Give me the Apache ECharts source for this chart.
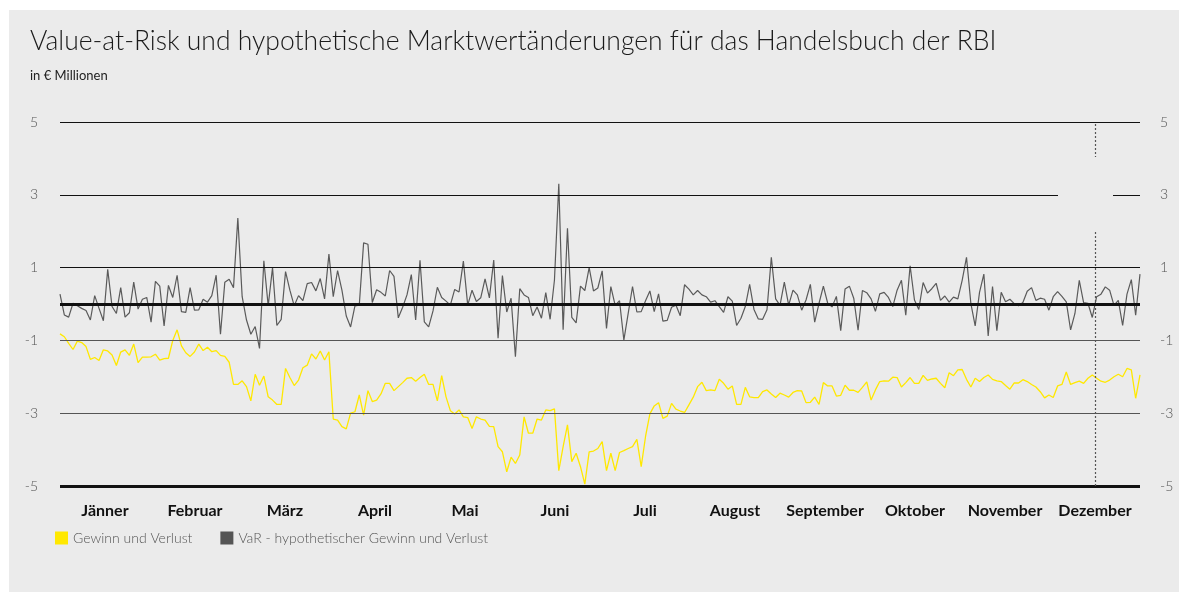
<!DOCTYPE html>
<html>
<head>
<meta charset="utf-8">
<script src="https://cdn.jsdelivr.net/npm/echarts@6/dist/echarts.min.js"></script>
<style>
html,body{margin:0;padding:0;background:#ffffff;}
#chart{position:absolute;left:0;top:0;width:1179px;height:592px;}
</style>
</head>
<body>
<div id="chart"></div>
<script>
const titleText = 'Value-at-Risk und hypothetische Marktwertänderungen für das Handelsbuch der RBI';
const subtitleText = 'in € Millionen';
const months = ['Jänner','Februar','März','April','Mai','Juni','Juli','August','September','Oktober','November','Dezember'];
const yTicks = [5, 3, 1, -1, -3, -5];
const seriesNames = ['Gewinn und Verlust', 'VaR - hypothetischer Gewinn und Verlust'];

// VaR - hypothetischer Gewinn und Verlust (daily, ~250 trading days)
const varValues = [
 0.27,-0.30,-0.36,0.02,-0.05,-0.12,-0.18,-0.44,0.23,-0.12,-0.46,0.95,-0.07,-0.26,0.45,-0.36,-0.24,0.60,-0.14,0.13,
 0.18,-0.50,0.62,0.49,-0.60,0.51,0.18,0.79,-0.21,-0.23,0.45,-0.17,-0.16,0.13,0.05,0.23,0.79,-0.83,0.60,0.68,
 0.45,2.36,0.20,-0.44,-0.83,-0.62,-1.22,1.19,-0.05,1.00,-0.59,-0.42,0.89,0.38,-0.05,0.23,0.09,0.56,0.59,0.36,
 0.70,0.14,1.37,
 0.20,0.92,0.38,-0.33,-0.63,-0.05,-0.03,1.68,1.64,0.04,0.39,0.32,0.22,0.92,0.76,-0.38,-0.09,0.25,0.81,-0.44,
 1.20,-0.49,-0.63,-0.19,0.46,0.18,0.08,-0.03,0.40,0.33,1.18,-0.03,0.38,0.07,0.17,0.69,0.17,1.21,-0.94,0.78,
 -0.22,0.16,-1.45,0.42,0.25,0.18,-0.32,-0.08,-0.39,0.31,-0.42,0.66,3.30,-0.71,2.08,-0.37,-0.52,0.49,
 0.37,1.00,0.36,0.44,0.91,-0.67,0.48,-0.04,0.09,-0.99,-0.26,0.48,-0.22,-0.21,0.09,0.36,-0.21,0.28,-0.47,-0.45,
 -0.09,-0.03,-0.32,0.53,0.41,0.25,0.37,0.25,0.20,0.05,0.09,-0.07,-0.23,0.20,0.08,-0.59,-0.39,-0.07,0.54,-0.15,
 -0.41,-0.42,-0.16,1.28,0.14,-0.04,0.60,-0.03,0.38,0.25,-0.17,0.11,0.54,-0.50,0.02,0.49,0.02,-0.08,0.21,-0.73,
 0.41,0.49,0.16,-0.72,0.37,0.31,0.14,-0.20,0.28,
 0.32,0.18,-0.07,0.38,0.65,-0.31,1.05,0.11,-0.15,0.59,0.30,0.42,0.57,0.10,0.22,0.05,0.19,0.14,0.65,1.28,
 0.02,-0.60,0.32,0.82,-0.88,0.48,-0.73,0.32,0.06,0.13,0.01,-0.05,0.04,0.35,0.45,0.10,0.16,0.13,-0.17,0.20,
 0.34,0.21,0.06,-0.71,-0.26,0.65,0.04,0.02,-0.37,0.20,0.27,0.47,0.38,-0.04,0.10,-0.59,0.27,0.67,-0.31,0.82
];

// Gewinn und Verlust (daily)
const plValues = [
 -0.82,-0.90,-1.08,-1.25,-1.02,-1.06,-1.17,-1.52,-1.47,-1.55,-1.26,-1.29,-1.40,-1.69,-1.32,-1.26,-1.41,-1.10,-1.61,-1.46,
 -1.46,-1.45,-1.38,-1.54,-1.50,-1.49,-1.00,-0.71,-1.15,-1.34,-1.44,-1.32,-1.10,-1.28,-1.19,-1.31,-1.28,-1.41,-1.44,-1.60,
 -2.21,-2.21,-2.11,-2.27,-2.66,-1.93,-2.23,-1.98,-2.55,-2.64,-2.76,-2.76,-1.77,-2.02,-2.24,-2.09,-1.75,-1.68,-1.37,-1.51,
 -1.29,-1.54,-1.31,
 -3.16,-3.19,-3.37,-3.43,-3.00,-2.96,-2.50,-3.05,-2.38,-2.68,-2.64,-2.47,-2.18,-2.18,-2.38,-2.27,-2.16,-2.04,-2.02,-2.12,
 -2.02,-1.93,-2.21,-2.21,-2.66,-1.97,-2.55,-2.93,-3.02,-2.91,-3.10,-3.12,-3.42,-3.10,-3.16,-3.19,-3.36,-3.37,-3.92,-4.06,
 -4.61,-4.21,-4.38,-4.15,-3.10,-3.55,-3.55,-3.16,-3.19,-2.91,-2.93,-2.88,-4.58,-3.92,-3.32,-4.33,-4.10,-4.47,
 -4.95,-4.06,-4.04,-3.97,-3.78,-4.58,-4.10,-4.58,-4.08,-4.03,-3.97,-3.92,-3.72,-4.47,-3.64,-3.02,-2.80,-2.71,-3.14,-3.08,
 -2.73,-2.89,-2.94,-2.98,-2.77,-2.56,-2.27,-2.15,-2.38,-2.36,-2.38,-2.07,-2.18,-2.34,-2.25,-2.76,-2.76,-2.29,-2.55,-2.57,
 -2.57,-2.41,-2.36,-2.47,-2.57,-2.45,-2.50,-2.56,-2.43,-2.38,-2.39,-2.71,-2.70,-2.56,-2.76,-2.16,-2.25,-2.25,-2.53,-2.51,
 -2.23,-2.37,-2.37,-2.43,-2.29,-2.14,-2.64,-2.36,-2.13,
 -2.11,-2.12,-2.01,-2.02,-2.28,-2.16,-2.02,-2.18,-2.18,-1.96,-2.10,-2.06,-2.04,-2.18,-2.30,-1.89,-1.97,-1.81,-1.80,-2.07,
 -2.28,-2.04,-2.13,-2.02,-1.95,-2.07,-2.11,-2.13,-2.24,-2.34,-2.17,-2.17,-2.08,-2.13,-2.21,-2.28,-2.41,-2.58,-2.50,-2.57,
 -2.25,-2.21,-1.87,-2.21,-2.16,-2.12,-2.18,-2.04,-1.95,-2.04,-2.12,-2.15,-2.09,-2.00,-1.93,-2.00,-1.77,-1.81,-2.59,-1.95
];

// position (day index) of the dashed year-end marker
const markerDay = 238.6;

const chart = echarts.init(document.getElementById('chart'), null, {renderer: 'canvas'});
const FONT = 'Lato, "Open Sans", sans-serif';
const nDays = Math.max(varValues.length, plValues.length) - 1;

function gridLine(v) {
  let st;
  if (v === -5) st = {color: '#111', width: 3, type: 'solid'};
  else if (v === -1 || v === -3) st = {color: '#555', width: 1.2, type: 'solid'};
  else st = {color: '#111', width: 1.2, type: 'solid'};
  return {yAxis: v, lineStyle: st};
}

const option = {
  backgroundColor: '#ffffff',
  animation: false,
  graphic: [
    {type: 'rect', z: -10, shape: {x: 9, y: 10, width: 1170, height: 582}, style: {fill: '#ebebeb'}},
    {type: 'rect', z: 100, shape: {x: 1058, y: 157, width: 55, height: 74}, style: {fill: '#ebebeb'}}
  ],
  title: [
    {text: titleText, left: 25, top: 23, textStyle: {fontFamily: FONT, fontWeight: 300, fontSize: 26.5, color: '#1a1a1a'}},
    {text: subtitleText, left: 25, top: 64, textStyle: {fontFamily: FONT, fontWeight: 'normal', fontSize: 13, color: '#222'}}
  ],
  legend: {
    left: 50, top: 526,
    icon: 'rect', itemWidth: 13, itemHeight: 13, itemGap: 28, padding: 5,
    textStyle: {fontFamily: FONT, fontWeight: 300, fontSize: 14, color: '#555'},
    data: [
      {name: seriesNames[0], itemStyle: {color: '#ffe800'}},
      {name: seriesNames[1], itemStyle: {color: '#555555'}}
    ]
  },
  grid: {left: 60, right: 39, top: 122, bottom: 106},
  xAxis: [
    {type: 'value', min: 0, max: nDays, show: false},
    {type: 'category', data: months, position: 'bottom', boundaryGap: true,
     axisLine: {show: false}, axisTick: {show: false}, splitLine: {show: false},
     axisLabel: {interval: 0, margin: 17, fontFamily: FONT, fontWeight: 'bold', fontSize: 16, color: '#111'}}
  ],
  yAxis: [
    {type: 'value', min: -5, max: 5, interval: 1, position: 'left',
     axisLine: {show: false}, axisTick: {show: false}, splitLine: {show: false},
     axisLabel: {margin: 22, fontFamily: FONT, fontWeight: 300, fontSize: 14, color: '#555',
       formatter: v => (yTicks.indexOf(v) >= 0 ? String(v) : '')}},
    {type: 'value', min: -5, max: 5, interval: 1, position: 'right',
     axisLine: {show: false}, axisTick: {show: false}, splitLine: {show: false},
     axisLabel: {margin: 20, fontFamily: FONT, fontWeight: 300, fontSize: 14, color: '#555',
       formatter: v => (yTicks.indexOf(v) >= 0 ? String(v) : '')}}
  ],
  series: [
    {
      name: '__grid', type: 'line', data: [], xAxisIndex: 0, yAxisIndex: 0, z: 1, silent: true,
      markLine: {silent: true, symbol: 'none', label: {show: false}, animation: false,
        data: yTicks.map(gridLine).concat([
          {xAxis: markerDay, lineStyle: {color: '#555', width: 1.2, type: [2, 2]}}
        ])}
    },
    {
      name: seriesNames[0], type: 'line', xAxisIndex: 0, yAxisIndex: 0, z: 3,
      data: plValues.map((v, i) => [i, v]),
      showSymbol: false, symbol: 'none',
      lineStyle: {color: '#ffe800', width: 1.3}, itemStyle: {color: '#ffe800'}
    },
    {
      name: seriesNames[1], type: 'line', xAxisIndex: 0, yAxisIndex: 0, z: 4,
      data: varValues.map((v, i) => [i, v]),
      showSymbol: false, symbol: 'none',
      lineStyle: {color: '#5a5a5a', width: 1.2}, itemStyle: {color: '#555555'}
    },
    {
      name: '__zero', type: 'line', data: [], xAxisIndex: 0, yAxisIndex: 0, z: 5, silent: true,
      markLine: {silent: true, symbol: 'none', label: {show: false}, animation: false,
        data: [{yAxis: 0, lineStyle: {color: '#111', width: 3, type: 'solid'}}]}
    }
  ]
};
chart.setOption(option);
</script>
</body>
</html>
